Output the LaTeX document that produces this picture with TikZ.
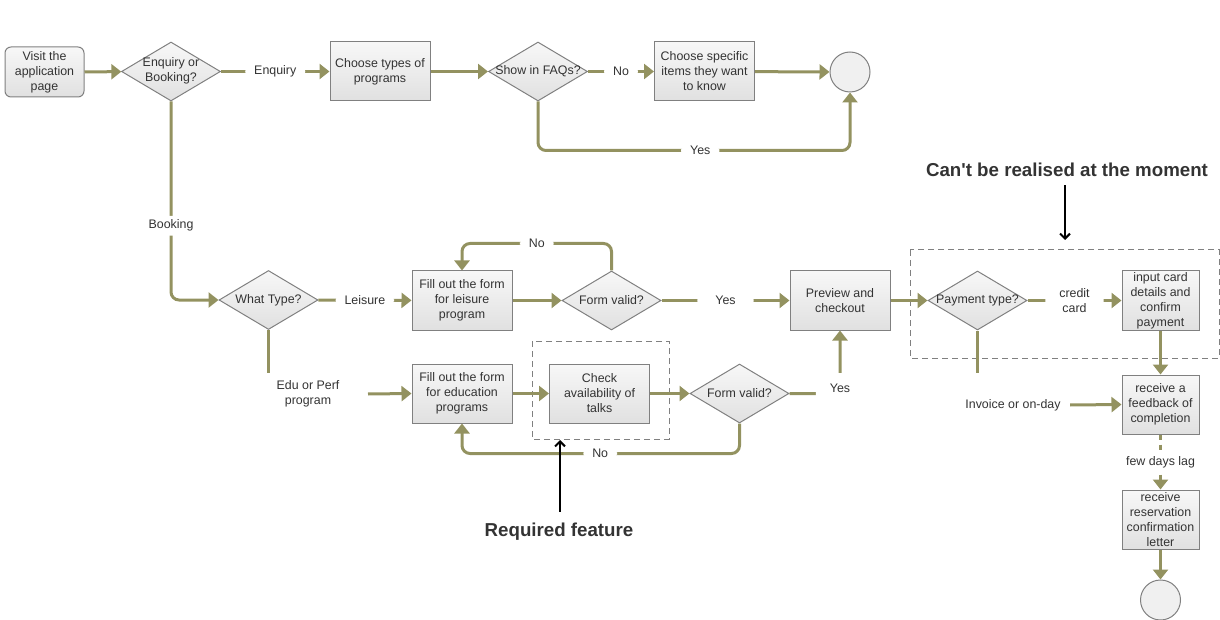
\documentclass[tikz,border=0pt]{standalone}
\usepackage{fontspec}
\setmainfont{Liberation Sans}
\usetikzlibrary{shapes.geometric,arrows.meta}
\definecolor{olive}{RGB}{147,146,96}
\definecolor{bord}{RGB}{128,128,128}
\definecolor{txt}{RGB}{51,51,51}
\newcommand\zw[1]{\makebox[0pt]{#1}}
\tikzset{
  base/.style={draw=bord, line width=1pt, top color=gray!6, bottom color=gray!24, text=txt, font=\fontsize{12.4}{15}\selectfont, align=center, inner sep=1pt},
  box/.style={base, rectangle, minimum width=100, minimum height=59},
  nbox/.style={base, rectangle, minimum width=77, minimum height=59},
  rbox/.style={base, rectangle, rounded corners=6pt, minimum width=79, minimum height=50},
  diam/.style={base, diamond, minimum width=99, minimum height=59, inner sep=0pt},
  term/.style={draw=bord, line width=1pt, circle, fill=gray!12, minimum size=40, inner sep=0pt},
  conn/.style={draw=olive, line width=3pt, -{Triangle[length=10pt,width=15pt]}, rounded corners=8pt},
  plain/.style={draw=olive, line width=3pt},
  lab/.style={fill=white, text=txt, font=\fontsize{12.4}{15}\selectfont, align=center, inner xsep=9pt, inner ysep=2pt},
  flab/.style={text=txt, font=\fontsize{12.4}{15}\selectfont, align=center},
  dbox/.style={draw=bord, line width=1pt, dash pattern=on 6pt off 4pt},
  note/.style={text=txt, font=\fontsize{18.7}{20}\selectfont\bfseries},
  narrow/.style={draw=black, line width=2pt, -{Straight Barb[length=5pt,width=10pt]}},
}
\begin{document}
\begin{tikzpicture}[x=1pt,y=-1pt]
\useasboundingbox (0,0) rectangle (1220,620);
% dashed boxes
\draw[dbox] (532,341) rectangle (669,439);
\draw[dbox] (910,250) rectangle (1219,358);
% nodes
\node[rbox] (visit) at (44.5,72) {Visit the\\application\\page};
\node[diam] (enq) at (171,71.5) {\zw{\begin{tabular}{@{}c@{}}Enquiry or\\Booking?\end{tabular}}};
\node[box] (types) at (380,71.5) {Choose types of\\programs};
\node[diam] (faq) at (538,71.5) {\zw{Show in FAQs?}};
\node[box] (spec) at (704.5,71.5) {Choose specific\\items they want\\to know};
\node[term] (end1) at (850,72) {};
\node[diam] (wt) at (268.5,300) {\zw{What Type?}};
\node[box] (fl) at (462,300.5) {Fill out the form\\for leisure\\program};
\node[diam] (fv1) at (611.5,300.5) {\zw{Form valid?}};
\node[box] (prev) at (840,300.5) {Preview and\\checkout};
\node[diam] (pay) at (977.5,300.5) {\zw{Payment type?}};
\node[nbox] (card) at (1160.5,300.5) {input card\\details and\\confirm\\payment};
\node[box] (fe) at (462,393.5) {Fill out the form\\for education\\programs};
\node[box] (chk) at (599.5,393.5) {Check\\availability of\\talks};
\node[diam] (fv2) at (739.5,393.5) {\zw{Form valid?}};
\node[nbox] (fb) at (1160.5,404.5) {receive a\\feedback of\\completion};
\node[nbox] (let) at (1160.5,519.5) {receive\\reservation\\confirmation\\letter};
\node[term] (end2) at (1160.5,600) {};
% connectors
\draw[conn] (visit) -- (enq);
\draw[conn] (enq) -- node[lab]{Enquiry} (types);
\draw[conn] (types) -- (faq);
\draw[conn] (faq) -- node[lab]{No} (spec);
\draw[conn] (spec) -- (end1);
\draw[conn] (faq.south) -- ++(0,49) -| node[lab,pos=0.26]{Yes} (end1.south);
\draw[conn] (enq.south) |- node[lab,pos=0.313,inner ysep=4pt]{Booking} (wt.west);
\draw[conn] (wt) -- node[lab]{Leisure} (fl);
\draw[conn] (fl) -- (fv1);
\draw[conn] (fv1.north) -- ++(0,-27) -| node[lab,pos=0.25]{No} (fl.north);
\draw[conn] (fv1) -- node[lab,inner xsep=18pt]{Yes} (prev);
\draw[conn] (prev) -- (pay);
\draw[conn] (pay) -- node[lab,inner xsep=14pt]{credit\\card} (card);
\draw[conn] (card) -- (fb);
\draw[conn, dash pattern=on 5pt off 5pt] (fb) -- node[lab,inner xsep=2pt,inner ysep=4pt]{few days lag} (let);
\draw[conn] (let) -- (end2);
% Edu or Perf branch
\coordinate (wtend) at (268.5,373);
\coordinate (edustart) at (368,394);
\node[flab] (edulab) at (308,394) {Edu or Perf\\program};
\draw[plain] (wt.south) -- (wtend);
\draw[conn] (edustart) -- (fe.west);
\draw[conn] (fe) -- (chk);
\draw[conn] (chk) -- (fv2);
\draw[conn] (fv2.east) -| node[lab,inner xsep=14pt,inner ysep=11pt,yshift=5pt]{Yes} (prev.south);
\draw[conn] (fv2.south) -- ++(0,30) -| node[lab,pos=0.251]{No} (fe.south);
% Invoice branch
\coordinate (payend) at (977.5,373);
\coordinate (invstart) at (1070,405);
\node[flab] (invlab) at (1013,405) {Invoice or on-day};
\draw[plain] (pay.south) -- (payend);
\draw[conn] (invstart) -- (fb.west);
% notes
\node[note] (n1) at (1067,170) {Can\textquotesingle t be realised at the moment};
\node[note] (n2) at (559,532) {Required feature};
\coordinate (n1tip) at (1065,240);
\coordinate (n2tip) at (560,440);
\draw[narrow] (n1.south -| n1tip) ++(0,5) -- (n1tip);
\draw[narrow] (n2.north -| n2tip) ++(0,-8) -- (n2tip);
\end{tikzpicture}
\end{document}
